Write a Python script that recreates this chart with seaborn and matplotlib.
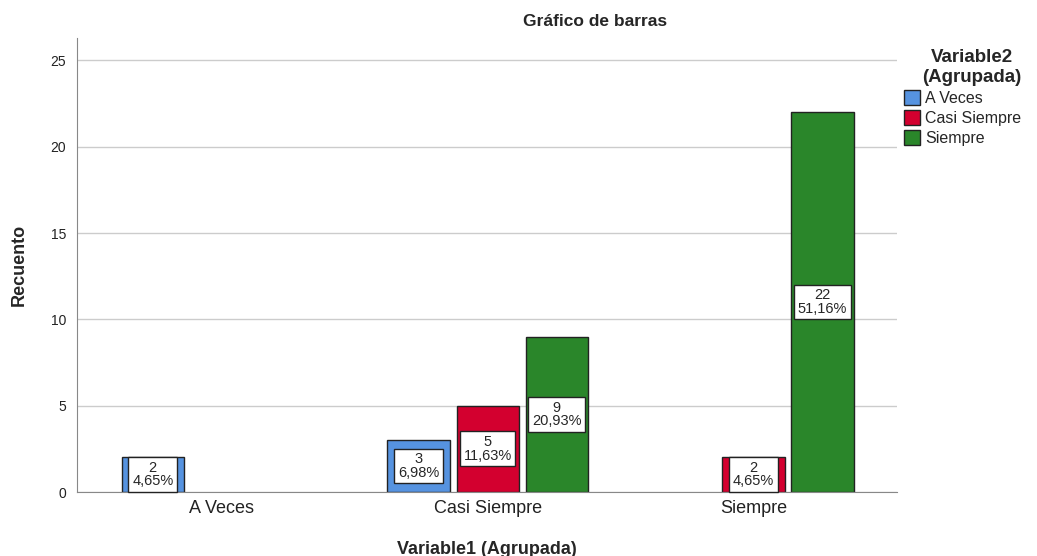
import matplotlib
matplotlib.use("Agg")
import matplotlib.pyplot as plt
import seaborn as sns
import pandas as pd
from matplotlib.patches import Patch

# data
var1 = ["A Veces", "Casi Siempre", "Casi Siempre", "Casi Siempre", "Siempre", "Siempre"]
var2 = ["A Veces", "A Veces", "Casi Siempre", "Siempre", "Casi Siempre", "Siempre"]
counts = [2, 3, 5, 9, 2, 22]

categories = ["A Veces", "Casi Siempre", "Siempre"]
colors = ["#5693E0", "#D3002F", "#2A862A"]

df = pd.DataFrame({"Variable1": var1, "Variable2": var2, "Recuento": counts})
total = sum(counts)

sns.set_style("white")
plt.rcParams["font.family"] = ["Liberation Sans", "DejaVu Sans"]

fig = plt.figure(figsize = (10.37, 5.56), dpi = 100)
ax = fig.add_axes([77 / 1037, 1 - 492 / 556, (897 - 77) / 1037, (492 - 38) / 556])

sns.barplot(data = df, x = "Variable1", y = "Recuento", hue = "Variable2", order = categories, hue_order = categories,
            palette = colors, saturation = 1, width = 0.78, gap = 0.1, edgecolor = "#222222", linewidth = 1.0, ax = ax,
            legend = False, errorbar = None)

for bar in ax.patches:
    h = bar.get_height()
    if h <= 0 or bar.get_width() == 0:
        continue
    pct = ("%.2f" % (h / total * 100)).replace(".", ",") + "%"
    ax.text(bar.get_x() + bar.get_width() / 2, h / 2, "%d\n%s" % (h, pct), ha = "center", va = "center", fontsize = 10.5,
            linespacing = 0.95, zorder = 5,
            bbox = dict(boxstyle = "square,pad=0.25", facecolor = "white", edgecolor = "#222222", linewidth = 1.0))

ax.set_xlim(-0.545, 2.54)
ax.set_ylim(0, 26.3)
ax.set_yticks([0, 5, 10, 15, 20, 25])
ax.yaxis.grid(True, color = "#cccccc", linewidth = 1)
ax.set_axisbelow(True)
for s in ["top", "right"]:
    ax.spines[s].set_visible(False)
ax.spines["left"].set_color("#888888")
ax.spines["bottom"].set_color("#888888")
ax.tick_params(axis = "y", labelsize = 10, length = 0, pad = 8, colors = "#222222")
ax.tick_params(axis = "x", labelsize = 13, length = 0, pad = 6, colors = "#222222")
ax.set_xlabel("Variable1 (Agrupada)", fontsize = 13, fontweight = "bold", labelpad = 17)
ax.set_ylabel("Recuento", fontsize = 13, fontweight = "bold", labelpad = 16)

fig.text(595 / 1037, 1 - 22 / 556, "Gráfico de barras", ha = "center", va = "center", fontsize = 12.5, fontweight = "bold")

handles = [Patch(facecolor = c, edgecolor = "#222222", label = l) for c, l in zip(colors, categories)]
leg = fig.legend(handles = handles, title = "Variable2\n(Agrupada)", loc = "upper left", bbox_to_anchor = (893 / 1037, 1 - 38 / 556),
                 frameon = False, fontsize = 11.5, handlelength = 1.0, handleheight = 1.0, handletextpad = 0.3, labelspacing = 0.28,
                 borderpad = 0.2, title_fontproperties = {"weight": "bold", "size": 13.5})
leg._legend_box.align = "right"
leg.get_title().set_multialignment("center")

fig.savefig("out.png", dpi = 100)
